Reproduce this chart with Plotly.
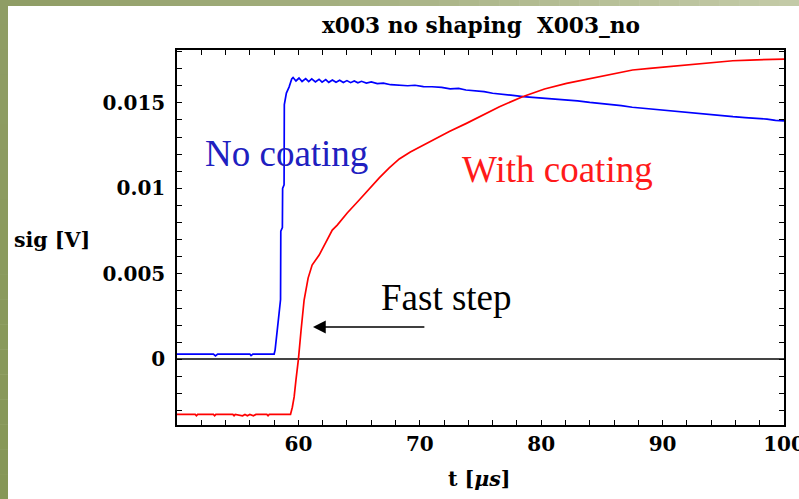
import plotly.graph_objects as go

# Signal traces (time in microseconds, signal in volts)
blue_t = [50.0, 53.0, 53.17, 53.35, 56.0, 56.1, 56.25, 58.0, 58.08, 58.27, 58.41, 58.53,
          58.55, 58.68, 58.70, 58.82, 58.84, 59.01, 59.23, 59.45, 59.56,
          59.8, 60.05, 60.3, 60.6, 60.85, 61.1, 61.4, 61.7, 61.95, 62.25, 62.5, 62.8,
          63.1, 63.4, 63.7, 64.0, 64.3, 64.6, 64.9, 65.2, 65.6, 66.0, 66.5, 67.0, 67.6,
          68.3, 69.0, 69.6, 70.3, 71.0, 71.8, 72.5, 73.2, 73.8, 74.6, 75.3, 76.0, 76.6,
          77.5, 78.5, 79.3, 80.2, 81.2, 82.1, 83.0, 84.0, 84.8, 85.7, 86.6, 87.5, 88.4,
          89.3, 90.3, 91.2, 92.2, 93.1, 94.0, 94.9, 95.8, 96.8, 97.7, 98.6, 99.3, 100.0]
blue_v = [0.00031, 0.00031, 0.00020, 0.00031, 0.00031, 0.00022, 0.00031, 0.00031, 0.00054,
          0.0016, 0.0027, 0.0035, 0.0075, 0.0077, 0.0100, 0.0102, 0.0149, 0.01557, 0.01592,
          0.01640, 0.01648,
          0.01628, 0.01645, 0.01625, 0.01642, 0.01624, 0.01640, 0.01622, 0.01638, 0.01621,
          0.01636, 0.01620, 0.01634, 0.01620, 0.01632, 0.01619, 0.01630, 0.01618, 0.01628,
          0.01617, 0.01626, 0.01616, 0.01622, 0.01612, 0.01615, 0.01606,
          0.01604, 0.01600, 0.01603, 0.01595, 0.01594, 0.01590, 0.01582, 0.01584, 0.01575,
          0.01572, 0.01566, 0.01556, 0.01550, 0.01545, 0.01536, 0.01532, 0.01527, 0.01522,
          0.01516, 0.01512, 0.01503, 0.01497, 0.01492, 0.01484, 0.01474, 0.01468, 0.01462,
          0.01454, 0.01448, 0.01440, 0.01433, 0.01428, 0.01424, 0.01419, 0.01414, 0.01410,
          0.01405, 0.01398, 0.01394]

red_t = [50.0, 51.5, 51.6, 51.7, 53.0, 53.1, 53.2, 54.6, 54.7, 54.8, 55.4, 55.6, 55.8,
         56.0, 56.3, 56.5, 57.4, 57.5, 57.6, 59.35, 59.5, 59.65, 59.8, 60.0, 60.22, 60.47,
         60.80, 61.13, 61.71, 62.37, 62.79, 63.20, 64.02, 65.01, 65.83, 66.66, 67.48, 68.31,
         69.22, 70.13, 71.03, 72.43, 73.84, 75.16, 76.56, 78.46, 80.27, 82.09, 83.41, 84.81,
         86.21, 87.53, 88.94, 90.34, 91.66, 93.06, 94.47, 95.79, 97.19, 98.59, 100.0]
red_v = [-0.00322, -0.00322, -0.00330, -0.00322, -0.00322, -0.00330, -0.00322, -0.00322,
         -0.00330, -0.00322, -0.00330, -0.00322, -0.00330, -0.00322, -0.00330, -0.00322,
         -0.00322, -0.00330, -0.00322, -0.00322, -0.0028, -0.0022, -0.0012, 0.0000, 0.0017,
         0.00347, 0.00475, 0.00551, 0.00610, 0.00698, 0.00756, 0.00785, 0.00856, 0.00932,
         0.00997, 0.01061, 0.01119, 0.01172, 0.01212, 0.01247, 0.01282, 0.01332, 0.01380,
         0.01429, 0.01477, 0.01536, 0.01581, 0.01614, 0.01633, 0.01653, 0.01673, 0.01692,
         0.01702, 0.01711, 0.01721, 0.01731, 0.01739, 0.01746, 0.01750, 0.01754, 0.01756]

x_ticks = [60, 70, 80, 90, 100]
x_ticklabels = ["60", "70", "80", "90", "100"]
y_ticks = [0, 0.005, 0.01, 0.015]
y_ticklabels = ["0", "0.005", "0.01", "0.015"]

W, H = 799, 499
ML, MR, MT, MB = 177, 15, 50, 74
PW, PH = W - ML - MR, H - MT - MB


def px_x(p):
    return (p - ML) / PW


def px_y(p):
    return (H - MB - p) / PH


label_font = dict(family="DejaVu Serif", size=20, color="black", weight="bold")

fig = go.Figure()
fig.add_trace(go.Scatter(x=blue_t, y=blue_v, mode="lines",
                         line=dict(color="#0000ff", width=1.7), showlegend=False))
fig.add_trace(go.Scatter(x=red_t, y=red_v, mode="lines",
                         line=dict(color="#ff0000", width=1.7), showlegend=False))

fig.update_layout(
    width=W, height=H,
    margin=dict(l=ML, r=MR, t=MT, b=MB, autoexpand=False),
    paper_bgcolor="white", plot_bgcolor="white",
    title=dict(text="<b>x003 no shaping  X003_no</b>", x=px_x(481), xref="paper",
               y=1 - 25 / H, yref="container", xanchor="center", yanchor="middle",
               font=dict(family="DejaVu Serif", size=21.7, color="black")),
    xaxis=dict(range=[50, 100], showgrid=False, zeroline=False, automargin=False,
               showline=True, linecolor="black", linewidth=1.5, mirror="ticks",
               ticks="inside", ticklen=5, tickwidth=1, tickcolor="black",
               tickmode="array", tickvals=x_ticks, ticktext=x_ticklabels,
               tickfont=label_font, ticklabeloverflow="allow",
               minor=dict(dtick=2, tick0=0, ticks="inside", ticklen=5, tickwidth=1,
                          tickcolor="black", showgrid=False)),
    yaxis=dict(range=[-0.00384, 0.01809], showgrid=False, automargin=False,
               zeroline=True, zerolinecolor="#444444", zerolinewidth=1.5,
               showline=True, linecolor="black", linewidth=1.5, mirror="ticks",
               ticks="inside", ticklen=5, tickwidth=1, tickcolor="black",
               tickmode="array", tickvals=y_ticks, ticktext=y_ticklabels,
               tickfont=label_font, ticklabelstandoff=6,
               minor=dict(dtick=0.001, tick0=0, ticks="inside", ticklen=5, tickwidth=1,
                          tickcolor="black", showgrid=False)),
)

# Axis labels
fig.add_annotation(text="<b>sig [V]</b>", xref="paper", yref="paper",
                   x=px_x(12), y=px_y(240), xanchor="left", yanchor="middle",
                   showarrow=False, font=dict(family="DejaVu Serif", size=20.5, color="black"))
fig.add_annotation(text="<b>t [<i>μs</i>]</b>", xref="paper", yref="paper",
                   x=px_x(479), y=px_y(479), xanchor="center", yanchor="middle",
                   showarrow=False, font=dict(family="DejaVu Serif", size=20.5, color="black"))

# Curve labels
serif = "Liberation Serif"
fig.add_annotation(text="No coating", x=59.0, y=0.01206, xanchor="center", yanchor="middle",
                   showarrow=False, font=dict(family=serif, size=37, color="#2020c0"))
fig.add_annotation(text="With coating", x=81.34, y=0.01113, xanchor="center", yanchor="middle",
                   showarrow=False, font=dict(family=serif, size=37, color="#ff1a1a"))
fig.add_annotation(text="Fast step", x=72.16, y=0.00364, xanchor="center", yanchor="middle",
                   showarrow=False, font=dict(family=serif, size=37, color="black"))
fig.add_annotation(text="", x=61.2, y=0.00189, ax=70.5, ay=0.00189,
                   axref="x", ayref="y", showarrow=True, arrowhead=2,
                   arrowsize=1.6, arrowwidth=1.6, arrowcolor="black")

# Olive slide border along the left and top edges
def blend(c1, c2, f):
    return "#%02x%02x%02x" % tuple(int(round(a + (b - a) * f)) for a, b in zip(c1, c2))

left_dark = (0x8f, 0x9d, 0x65)
left_bottom = (0x86, 0x97, 0x57)
top_light = (0xc3, 0xca, 0xa7)

n = 40
for i in range(n):
    x0 = i * W / n
    x1 = (i + 1) * W / n
    fig.add_shape(type="rect", xref="paper", yref="paper",
                  x0=px_x(x0), x1=px_x(x1 + 0.5), y0=px_y(6), y1=px_y(0),
                  fillcolor=blend(left_dark, top_light, i / (n - 1)),
                  line=dict(width=0), layer="above")
m = 20
for i in range(m):
    y0 = i * H / m
    y1 = (i + 1) * H / m
    fig.add_shape(type="rect", xref="paper", yref="paper",
                  x0=px_x(0), x1=px_x(8), y0=px_y(y1 + 0.5), y1=px_y(y0),
                  fillcolor=blend(left_dark, left_bottom, i / (m - 1)),
                  line=dict(width=0), layer="above")

fig.write_html("out.html")
